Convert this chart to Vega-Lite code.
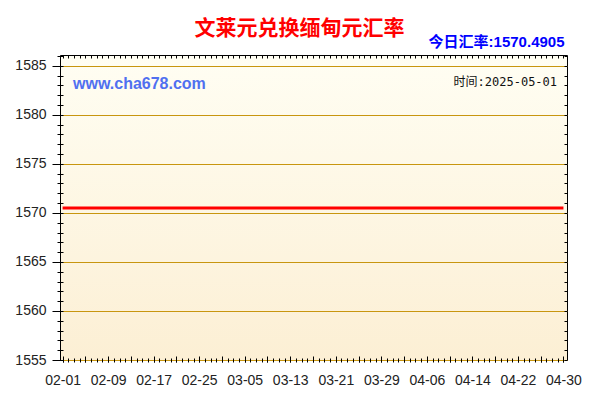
{
  "$schema": "https://vega.github.io/schema/vega-lite/v6.json",
  "autosize": "none",
  "padding": {"left": 60, "top": 55, "right": 33, "bottom": 40},
  "width": 507,
  "height": 305,
  "background": "white",
  "title": {
    "text": "文莱元兑换缅甸元汇率",
    "color": "#ff0000",
    "font": "Noto Sans CJK SC",
    "fontSize": 21,
    "fontWeight": "bold",
    "anchor": "middle",
    "frame": "group",
    "dx": -14,
    "offset": -4
  },
  "config": {
    "view": {
      "stroke": "black",
      "strokeWidth": 1,
      "fill": {
        "gradient": "linear",
        "x1": 0, "y1": 0, "x2": 0, "y2": 1,
        "stops": [
          {"offset": 0, "color": "#fffef3"},
          {"offset": 1, "color": "#fcefd4"}
        ]
      }
    },
    "axis": {
      "domain": false,
      "grid": false,
      "title": null,
      "tickColor": "black",
      "labelFont": "Liberation Sans",
      "labelFontSize": 14,
      "labelColor": "#222222",
      "labelFlush": false,
      "labelOverlap": false
    }
  },
  "data": {
    "values": [
      {"date": "2025/02/01", "rate": 1570.4905}, {"date": "2025/02/02", "rate": 1570.4905},
      {"date": "2025/02/03", "rate": 1570.4905}, {"date": "2025/02/04", "rate": 1570.4905},
      {"date": "2025/02/05", "rate": 1570.4905}, {"date": "2025/02/06", "rate": 1570.4905},
      {"date": "2025/02/07", "rate": 1570.4905}, {"date": "2025/02/08", "rate": 1570.4905},
      {"date": "2025/02/09", "rate": 1570.4905}, {"date": "2025/02/10", "rate": 1570.4905},
      {"date": "2025/02/11", "rate": 1570.4905}, {"date": "2025/02/12", "rate": 1570.4905},
      {"date": "2025/02/13", "rate": 1570.4905}, {"date": "2025/02/14", "rate": 1570.4905},
      {"date": "2025/02/15", "rate": 1570.4905}, {"date": "2025/02/16", "rate": 1570.4905},
      {"date": "2025/02/17", "rate": 1570.4905}, {"date": "2025/02/18", "rate": 1570.4905},
      {"date": "2025/02/19", "rate": 1570.4905}, {"date": "2025/02/20", "rate": 1570.4905},
      {"date": "2025/02/21", "rate": 1570.4905}, {"date": "2025/02/22", "rate": 1570.4905},
      {"date": "2025/02/23", "rate": 1570.4905}, {"date": "2025/02/24", "rate": 1570.4905},
      {"date": "2025/02/25", "rate": 1570.4905}, {"date": "2025/02/26", "rate": 1570.4905},
      {"date": "2025/02/27", "rate": 1570.4905}, {"date": "2025/02/28", "rate": 1570.4905},
      {"date": "2025/03/01", "rate": 1570.4905}, {"date": "2025/03/02", "rate": 1570.4905},
      {"date": "2025/03/03", "rate": 1570.4905}, {"date": "2025/03/04", "rate": 1570.4905},
      {"date": "2025/03/05", "rate": 1570.4905}, {"date": "2025/03/06", "rate": 1570.4905},
      {"date": "2025/03/07", "rate": 1570.4905}, {"date": "2025/03/08", "rate": 1570.4905},
      {"date": "2025/03/09", "rate": 1570.4905}, {"date": "2025/03/10", "rate": 1570.4905},
      {"date": "2025/03/11", "rate": 1570.4905}, {"date": "2025/03/12", "rate": 1570.4905},
      {"date": "2025/03/13", "rate": 1570.4905}, {"date": "2025/03/14", "rate": 1570.4905},
      {"date": "2025/03/15", "rate": 1570.4905}, {"date": "2025/03/16", "rate": 1570.4905},
      {"date": "2025/03/17", "rate": 1570.4905}, {"date": "2025/03/18", "rate": 1570.4905},
      {"date": "2025/03/19", "rate": 1570.4905}, {"date": "2025/03/20", "rate": 1570.4905},
      {"date": "2025/03/21", "rate": 1570.4905}, {"date": "2025/03/22", "rate": 1570.4905},
      {"date": "2025/03/23", "rate": 1570.4905}, {"date": "2025/03/24", "rate": 1570.4905},
      {"date": "2025/03/25", "rate": 1570.4905}, {"date": "2025/03/26", "rate": 1570.4905},
      {"date": "2025/03/27", "rate": 1570.4905}, {"date": "2025/03/28", "rate": 1570.4905},
      {"date": "2025/03/29", "rate": 1570.4905}, {"date": "2025/03/30", "rate": 1570.4905},
      {"date": "2025/03/31", "rate": 1570.4905}, {"date": "2025/04/01", "rate": 1570.4905},
      {"date": "2025/04/02", "rate": 1570.4905}, {"date": "2025/04/03", "rate": 1570.4905},
      {"date": "2025/04/04", "rate": 1570.4905}, {"date": "2025/04/05", "rate": 1570.4905},
      {"date": "2025/04/06", "rate": 1570.4905}, {"date": "2025/04/07", "rate": 1570.4905},
      {"date": "2025/04/08", "rate": 1570.4905}, {"date": "2025/04/09", "rate": 1570.4905},
      {"date": "2025/04/10", "rate": 1570.4905}, {"date": "2025/04/11", "rate": 1570.4905},
      {"date": "2025/04/12", "rate": 1570.4905}, {"date": "2025/04/13", "rate": 1570.4905},
      {"date": "2025/04/14", "rate": 1570.4905}, {"date": "2025/04/15", "rate": 1570.4905},
      {"date": "2025/04/16", "rate": 1570.4905}, {"date": "2025/04/17", "rate": 1570.4905},
      {"date": "2025/04/18", "rate": 1570.4905}, {"date": "2025/04/19", "rate": 1570.4905},
      {"date": "2025/04/20", "rate": 1570.4905}, {"date": "2025/04/21", "rate": 1570.4905},
      {"date": "2025/04/22", "rate": 1570.4905}, {"date": "2025/04/23", "rate": 1570.4905},
      {"date": "2025/04/24", "rate": 1570.4905}, {"date": "2025/04/25", "rate": 1570.4905},
      {"date": "2025/04/26", "rate": 1570.4905}, {"date": "2025/04/27", "rate": 1570.4905},
      {"date": "2025/04/28", "rate": 1570.4905}, {"date": "2025/04/29", "rate": 1570.4905},
      {"date": "2025/04/30", "rate": 1570.4905}
    ]
  },
  "resolve": {"axis": {"x": "independent", "y": "independent"}},
  "layer": [
    {
      "mark": {"type": "line", "opacity": 0},
      "encoding": {
        "x": {
          "field": "date", "type": "temporal",
          "scale": {"domain": [{"year": 2025, "month": 1, "date": 31, "hours": 13}, {"year": 2025, "month": 4, "date": 30, "hours": 15}]},
          "axis": {
            "orient": "bottom", "labels": false, "tickSize": 6, "offset": -4,
            "values": [
              {"year": 2025, "month": 2, "date": 1}, {"year": 2025, "month": 2, "date": 5},
              {"year": 2025, "month": 2, "date": 9}, {"year": 2025, "month": 2, "date": 13},
              {"year": 2025, "month": 2, "date": 17}, {"year": 2025, "month": 2, "date": 21},
              {"year": 2025, "month": 2, "date": 25}, {"year": 2025, "month": 3, "date": 1},
              {"year": 2025, "month": 3, "date": 5}, {"year": 2025, "month": 3, "date": 9},
              {"year": 2025, "month": 3, "date": 13}, {"year": 2025, "month": 3, "date": 17},
              {"year": 2025, "month": 3, "date": 21}, {"year": 2025, "month": 3, "date": 25},
              {"year": 2025, "month": 3, "date": 29}, {"year": 2025, "month": 4, "date": 2},
              {"year": 2025, "month": 4, "date": 6}, {"year": 2025, "month": 4, "date": 10},
              {"year": 2025, "month": 4, "date": 14}, {"year": 2025, "month": 4, "date": 18},
              {"year": 2025, "month": 4, "date": 22}, {"year": 2025, "month": 4, "date": 26},
              {"year": 2025, "month": 4, "date": 30}
            ]
          }
        },
        "y": {
          "field": "rate", "type": "quantitative",
          "scale": {"domain": [1555, 1586.1], "zero": false, "nice": false},
          "axis": {
            "orient": "left", "labels": false, "tickSize": 6, "offset": -3,
            "values": [1555, 1556, 1557, 1558, 1559, 1560, 1561, 1562, 1563, 1564, 1565, 1566, 1567, 1568, 1569, 1570, 1571, 1572, 1573, 1574, 1575, 1576, 1577, 1578, 1579, 1580, 1581, 1582, 1583, 1584, 1585, 1586]
          }
        }
      }
    },
    {
      "mark": {"type": "line", "opacity": 0},
      "encoding": {
        "x": {
          "field": "date", "type": "temporal",
          "axis": {"orient": "bottom", "labels": false, "tickSize": 4, "offset": -2, "tickCount": {"interval": "day", "step": 1}}
        },
        "y": {
          "field": "rate", "type": "quantitative",
          "axis": {
            "orient": "right", "labels": false, "tickSize": 3, "offset": -3,
            "values": [1555, 1556, 1557, 1558, 1559, 1560, 1561, 1562, 1563, 1564, 1565, 1566, 1567, 1568, 1569, 1570, 1571, 1572, 1573, 1574, 1575, 1576, 1577, 1578, 1579, 1580, 1581, 1582, 1583, 1584, 1585, 1586]
          }
        }
      }
    },
    {
      "mark": {"type": "line", "opacity": 0},
      "encoding": {
        "x": {
          "field": "date", "type": "temporal",
          "axis": {
            "orient": "top", "labels": false, "tickSize": 3, "offset": -3,
            "tickCount": {"interval": "day", "step": 1},
            "title": "今日汇率:1570.4905",
            "titleFont": "Liberation Sans, Noto Sans CJK SC",
            "titleFontSize": 15,
            "titleFontWeight": "bold",
            "titleColor": "#0000ff",
            "titleAlign": "right",
            "titleX": 504,
            "titlePadding": 5
          }
        },
        "y": {"field": "rate", "type": "quantitative", "axis": null}
      }
    },
    {
      "mark": {"type": "line", "color": "#ff0000", "strokeWidth": 3},
      "encoding": {
        "x": {
          "field": "date", "type": "temporal",
          "axis": {
            "orient": "bottom", "ticks": false, "tickSize": 0, "labelPadding": 13, "format": "%m-%d",
            "values": [
              {"year": 2025, "month": 2, "date": 1}, {"year": 2025, "month": 2, "date": 9},
              {"year": 2025, "month": 2, "date": 17}, {"year": 2025, "month": 2, "date": 25},
              {"year": 2025, "month": 3, "date": 5}, {"year": 2025, "month": 3, "date": 13},
              {"year": 2025, "month": 3, "date": 21}, {"year": 2025, "month": 3, "date": 29},
              {"year": 2025, "month": 4, "date": 6}, {"year": 2025, "month": 4, "date": 14},
              {"year": 2025, "month": 4, "date": 22}, {"year": 2025, "month": 4, "date": 30}
            ]
          }
        },
        "y": {
          "field": "rate", "type": "quantitative",
          "axis": {
            "orient": "left", "tickSize": 8, "labelPadding": 6, "format": "d",
            "grid": true, "gridColor": "#c8960f", "gridWidth": 1,
            "values": [1555, 1560, 1565, 1570, 1575, 1580, 1585]
          }
        }
      }
    },
    {
      "data": {"values": [{"site": "www.cha678.com"}]},
      "mark": {"type": "text", "align": "left", "baseline": "middle", "font": "Liberation Sans", "fontSize": 16, "fontWeight": "bold", "color": "#5070f0"},
      "encoding": {
        "x": {"datum": {"year": 2025, "month": 2, "date": 2, "hours": 20}, "type": "temporal", "axis": null},
        "y": {"datum": 1583.15, "type": "quantitative", "axis": null},
        "text": {"field": "site"}
      }
    },
    {
      "data": {"values": [{"stamp": "时间:2025-05-01"}]},
      "mark": {"type": "text", "align": "right", "baseline": "middle", "font": "DejaVu Sans Mono, Noto Sans CJK SC", "fontSize": 12, "color": "#111111"},
      "encoding": {
        "x": {"datum": {"year": 2025, "month": 4, "date": 28, "hours": 21}, "type": "temporal", "axis": null},
        "y": {"datum": 1583.35, "type": "quantitative", "axis": null},
        "text": {"field": "stamp"}
      }
    }
  ]
}
